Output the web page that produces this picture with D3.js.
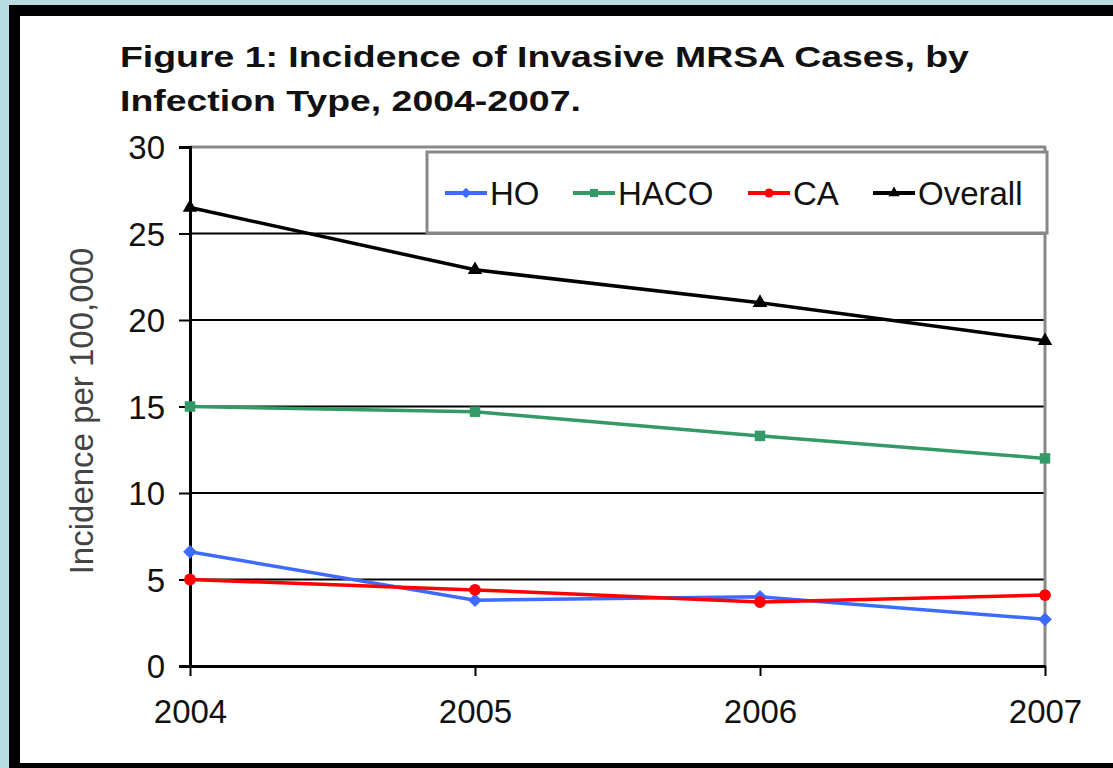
<!DOCTYPE html>
<html lang="en">
<head>
<meta charset="utf-8">
<title>MRSA incidence</title>
<script src="https://cdn.jsdelivr.net/npm/d3@7"></script>
<style>
  body { margin: 0; background: #b9dde3; }
  svg { display: block; font-family: "Liberation Sans", Arial, sans-serif; }
</style>
</head>
<body>
<div id="chart"></div>
<script>
// data
var years = ["2004", "2005", "2006", "2007"];
var hoValues = [6.6, 3.8, 4.0, 2.7];
var hacoValues = [15.0, 14.7, 13.3, 12.0];
var caValues = [5.0, 4.4, 3.7, 4.1];
var overallValues = [26.5, 22.9, 21.0, 18.8];
var yTicks = [0, 5, 10, 15, 20, 25, 30];

var series = [
  { name: "HO", values: hoValues, color: "#3d6bff", shape: d3.symbolDiamond2, size: 120 },
  { name: "HACO", values: hacoValues, color: "#339966", shape: d3.symbolSquare2, size: 140 },
  { name: "CA", values: caValues, color: "#ff0000", shape: d3.symbolCircle, size: 110 },
  { name: "Overall", values: overallValues, color: "#000000", shape: d3.symbolTriangle2, size: 150 }
];

var width = 1113, height = 768;
var svg = d3.select("#chart").append("svg")
    .attr("width", width)
    .attr("height", height);

// frame
svg.append("rect").attr("x", 9).attr("y", 5).attr("width", width).attr("height", 770).attr("fill", "#000");
svg.append("rect").attr("x", 20).attr("y", 16).attr("width", width).attr("height", 747).attr("fill", "#fff");

var x = d3.scalePoint().domain(years).range([190, 1045]);
var y = d3.scaleLinear().domain([0, 30]).range([666, 147]);

// title (the original image is stretched sideways)
var title = svg.append("text")
    .attr("transform", "translate(120,0) scale(1.29,1)")
    .attr("font-size", 29).attr("font-weight", "bold").attr("fill", "#111");
title.append("tspan").attr("x", 0).attr("y", 67).text("Figure 1: Incidence of Invasive MRSA Cases, by");
title.append("tspan").attr("x", 0).attr("y", 111).text("Infection Type, 2004-2007.");

// gridlines
svg.append("g").selectAll("line")
  .data(yTicks.filter(function(d) { return d > 0 && d < 30; }))
  .enter().append("line")
    .attr("x1", 190).attr("x2", 1044)
    .attr("y1", function(d) { return y(d); })
    .attr("y2", function(d) { return y(d); })
    .attr("stroke", "#000").attr("stroke-width", 2);

// plot frame top and right (gray)
svg.append("line").attr("x1", 190).attr("x2", 1046).attr("y1", y(30)).attr("y2", y(30))
    .attr("stroke", "#888").attr("stroke-width", 3);
svg.append("line").attr("x1", 1045).attr("x2", 1045).attr("y1", y(30)).attr("y2", y(0))
    .attr("stroke", "#888").attr("stroke-width", 3);

// axes
var yAxis = svg.append("g")
    .attr("transform", "translate(190,0)")
    .call(d3.axisLeft(y).tickValues(yTicks).tickSize(11).tickPadding(14));
var xAxis = svg.append("g")
    .attr("transform", "translate(0," + y(0) + ")")
    .call(d3.axisBottom(x).tickSize(10).tickPadding(24).tickSizeOuter(0));

yAxis.select(".domain").attr("stroke", "#000").attr("stroke-width", 3);
xAxis.select(".domain").attr("stroke", "#000").attr("stroke-width", 3);
svg.selectAll(".tick line").attr("stroke", "#000").attr("stroke-width", 2);
svg.selectAll(".tick text").attr("font-size", 33).attr("fill", "#111")
    .attr("font-family", "'Liberation Sans', Arial, sans-serif");
yAxis.selectAll(".tick text").attr("dy", "0.36em");
xAxis.selectAll(".tick text").attr("dy", "0.71em");

// y axis title
svg.append("text")
    .attr("transform", "translate(93,411) rotate(-90)")
    .attr("text-anchor", "middle")
    .attr("font-size", 33).attr("fill", "#444")
    .text("Incidence per 100,000");

// lines and markers
var line = d3.line()
    .x(function(d, i) { return x(years[i]); })
    .y(function(d) { return y(d); });

series.forEach(function(s) {
  svg.append("path")
      .datum(s.values)
      .attr("d", line)
      .attr("fill", "none")
      .attr("stroke", s.color)
      .attr("stroke-width", 3.5);
  svg.append("g").selectAll("path")
    .data(s.values)
    .enter().append("path")
      .attr("d", d3.symbol().type(s.shape).size(s.size))
      .attr("transform", function(d, i) { return "translate(" + x(years[i]) + "," + y(d) + ")"; })
      .attr("fill", s.color);
});

// legend
var legend = svg.append("g");
legend.append("rect")
    .attr("x", 427).attr("y", 152).attr("width", 620).attr("height", 81)
    .attr("fill", "#fff").attr("stroke", "#888").attr("stroke-width", 3);

var legendX = [445, 573, 748, 873];
series.forEach(function(s, i) {
  var g = legend.append("g").attr("transform", "translate(" + legendX[i] + ",193)");
  g.append("line").attr("x1", 0).attr("x2", 42).attr("y1", 0).attr("y2", 0)
      .attr("stroke", s.color).attr("stroke-width", 4);
  g.append("path")
      .attr("d", d3.symbol().type(s.shape).size(s.size * 0.6))
      .attr("transform", "translate(21,0)")
      .attr("fill", s.color);
  g.append("text")
      .attr("x", 45).attr("y", 12)
      .attr("font-size", 33).attr("fill", "#111")
      .text(s.name);
});
</script>
</body>
</html>
